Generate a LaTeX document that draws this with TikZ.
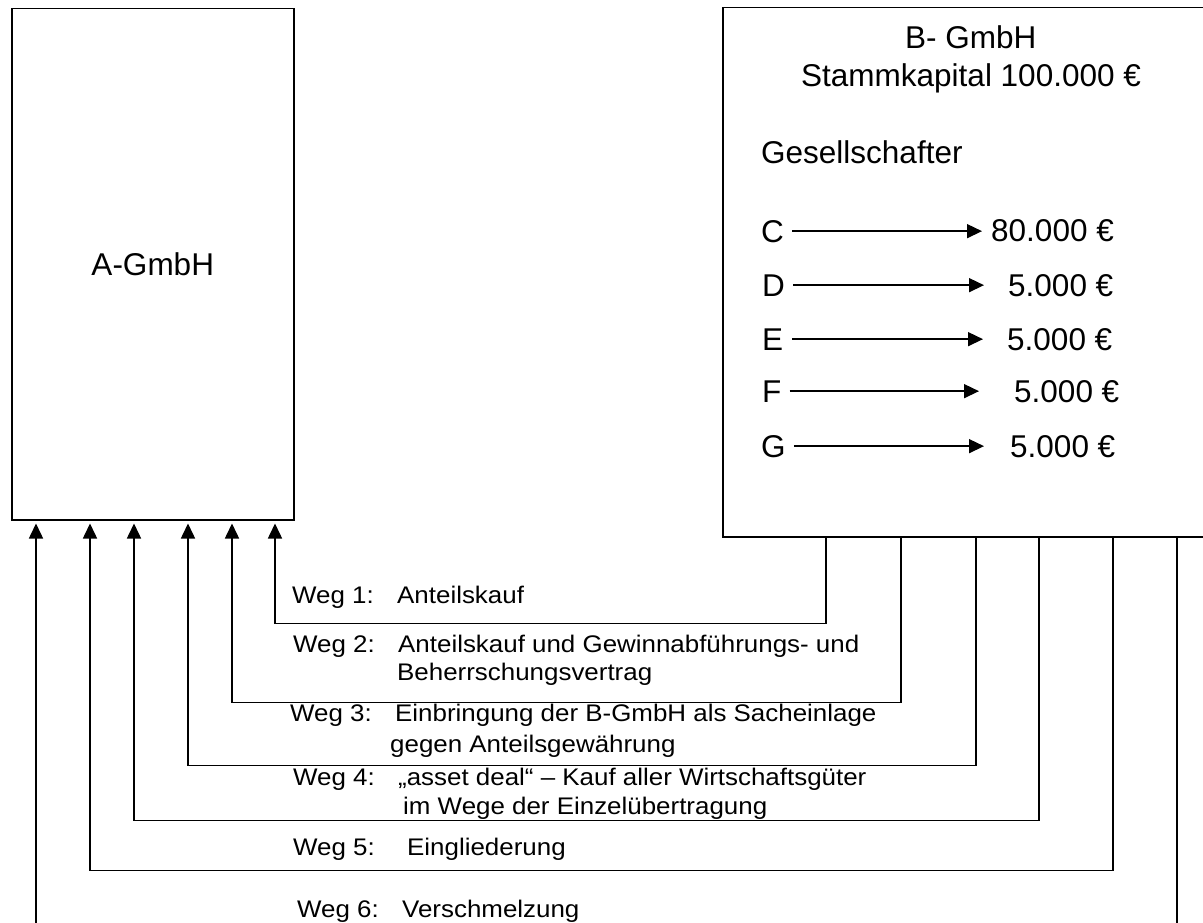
\documentclass[tikz,border=0pt]{standalone}
\usepackage{fontspec}
\setmainfont{Liberation Sans}
\newfontfamily\labfont[FakeStretch=1.08]{Liberation Sans}
\usetikzlibrary{arrows.meta}
\tikzset{
  box/.style={draw, line width=1.5pt, rectangle, inner sep=0pt, anchor=north west},
  ln/.style={line width=1.5pt},
  arr/.style={line width=1.5pt, -{Triangle[length=15pt,width=14pt]}},
  big/.style={inner sep=0pt, anchor=base west, font=\fontsize{31.5}{36}\selectfont},
  lab/.style={inner sep=0pt, anchor=base west, font=\labfont\fontsize{24}{28}\selectfont},
}
\begin{document}
\begin{tikzpicture}[x=1pt,y=-1pt]
\useasboundingbox (0,0) rectangle (1203,923);
\clip (0,0) rectangle (1203,923);
\fill[white] (0,0) rectangle (1203,923);

% boxes
\node[box, minimum width=282pt, minimum height=511pt, font=\fontsize{31.5}{36}\selectfont] (A) at (11,8) {A-GmbH};
\node[box, minimum width=520pt, minimum height=529pt] (B) at (722,7) {};

% B box texts
\node[big] (bt1) at (905,49) {B- GmbH};
\node[big] (bt2) at (801,87) {Stammkapital 100.000 €};
\node[big] (bt3) at (761,164) {Gesellschafter};

\node[big] (cL) at (761,242) {C};
\node[big] (dL) at (762,296) {D};
\node[big] (eL) at (762,350) {E};
\node[big] (fL) at (762,402) {F};
\node[big] (gL) at (761,457) {G};
\node[big] (cV) at (991,241) {80.000 €};
\node[big] (dV) at (1008,296) {5.000 €};
\node[big] (eV) at (1007,350) {5.000 €};
\node[big] (fV) at (1014,402) {5.000 €};
\node[big] (gV) at (1010,457) {5.000 €};

\draw[arr, shorten <=8pt, shorten >=9pt]  (cL.east) -- (cL.east -| cV.west);
\draw[arr, shorten <=8pt, shorten >=24pt] (dL.east) -- (dL.east -| dV.west);
\draw[arr, shorten <=9pt, shorten >=24pt] (eL.east) -- (eL.east -| eV.west);
\draw[arr, shorten <=8pt, shorten >=35pt] (fL.east) -- (fL.east -| fV.west);
\draw[arr, shorten <=8pt, shorten >=26pt] (gL.east) -- (gL.east -| gV.west);

% labels
\node[lab] (w1a) at (292,603) {Weg 1:};
\node[lab] (w1b) at (397,603) {Anteilskauf};
\node[lab] (w2a) at (293,652) {Weg 2:};
\node[lab] (w2b) at (398,652) {Anteilskauf und Gewinnabführungs- und};
\node[lab] (w2c) at (397,680) {Beherrschungsvertrag};
\node[lab] (w3a) at (290,721) {Weg 3:};
\node[lab] (w3b) at (395,721) {Einbringung der B-GmbH als Sacheinlage};
\node[lab] (w3c) at (390,752) {gegen Anteilsgewährung};
\node[lab] (w4a) at (293,785) {Weg 4:};
\node[lab] (w4b) at (398,785) {„asset deal“ – Kauf aller Wirtschaftsgüter};
\node[lab] (w4c) at (403,814) {im Wege der Einzelübertragung};
\node[lab] (w5a) at (293,855) {Weg 5:};
\node[lab] (w5b) at (407,855) {Eingliederung};
\node[lab] (w6a) at (297,917) {Weg 6:};
\node[lab] (w6b) at (402,917) {Verschmelzung};

% connectors from B to A
\draw[arr] ([xshift=104pt]B.south west) -- ++(0,86)  -| ([xshift=264pt,yshift=-3pt]A.south west);
\draw[arr] ([xshift=179pt]B.south west) -- ++(0,165) -| ([xshift=221pt,yshift=-3pt]A.south west);
\draw[arr] ([xshift=254pt]B.south west) -- ++(0,228) -| ([xshift=177pt,yshift=-3pt]A.south west);
\draw[arr] ([xshift=317pt]B.south west) -- ++(0,283) -| ([xshift=123pt,yshift=-3pt]A.south west);
\draw[arr] ([xshift=391pt]B.south west) -- ++(0,333) -| ([xshift=79pt,yshift=-3pt]A.south west);
\coordinate (e6a) at (36,930);
\coordinate (e6b) at (1177,930);
\draw[arr] (e6a) -- ([xshift=25pt,yshift=-3pt]A.south west);
\draw[ln] ([xshift=455pt]B.south west) -- (e6b);
\end{tikzpicture}
\end{document}
